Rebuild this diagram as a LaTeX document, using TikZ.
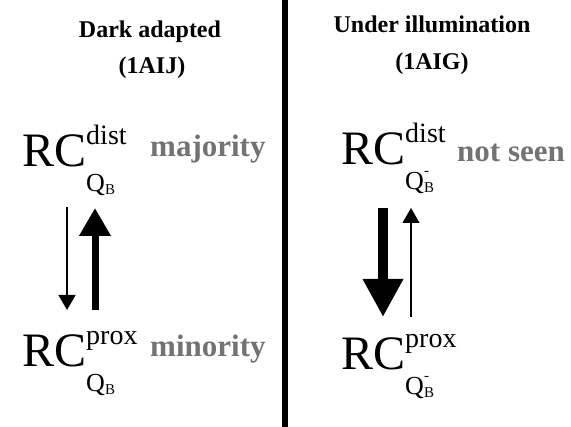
\documentclass[tikz,border=0pt]{standalone}
\usepackage{fontspec}
\setmainfont{Liberation Serif}
\usetikzlibrary{arrows.meta}
\definecolor{labelgray}{gray}{0.45}
% RC with state superscript and Q_B subscript (#2 = charge mark)
\newcommand{\rcstate}[2]{%
  {\fontsize{48}{48}\selectfont RC}%
  \rlap{\raisebox{22pt}{\fontsize{28}{28}\selectfont #1}}%
  \raisebox{-25pt}{\fontsize{26}{26}\selectfont Q}%
  \rlap{\raisebox{-28pt}{\fontsize{15}{15}\selectfont B}}%
  \raisebox{-11pt}{\fontsize{15}{15}\selectfont #2}}
\tikzset{
  head/.style={font=\fontsize{24}{24}\selectfont\bfseries, anchor=base, inner sep=0pt},
  rcnode/.style={anchor=base west, inner sep=0pt},
  share/.style={font=\fontsize{31}{31}\selectfont\bfseries, text=labelgray, anchor=base west, inner sep=0pt},
  fatarrow/.style={line width=7pt, -{Triangle[width=30pt,length=28pt]}},
  fatterarrow/.style={line width=10pt, -{Triangle[width=38pt,length=38pt]}},
  slimarrow/.style={line width=1.2pt, -{Triangle[width=17pt,length=15pt]}},
}
\begin{document}
\begin{tikzpicture}[x=1pt,y=-1pt]
    \useasboundingbox (0,0) rectangle (571,427);
    % divider
    \draw[line width=5.5pt] (285,0) -- (285,427);
    % left half: dark adapted
    \node[head] (darkhd) at (150,38) {Dark adapted};
    \node[head] (darkid) at (152,74) {(1AIJ)};
    \node[rcnode] (distL) at (22,167) {\rcstate{dist}{}};
    \node[rcnode] (proxL) at (22,367) {\rcstate{prox}{}};
    \node[share] (major) at (150,157) {majority};
    \node[share] (minor) at (150,357) {minority};
    \draw[slimarrow] ([xshift=45pt,yshift=-40pt]distL.base west) -- ([xshift=45pt,yshift=57pt]proxL.base west);
    \draw[fatarrow] ([xshift=73pt,yshift=57pt]proxL.base west) -- ([xshift=73pt,yshift=-41pt]distL.base west);
    % right half: under illumination
    \node[head] (lighthd) at (432,33) {Under illumination};
    \node[head] (lightid) at (432,70) {(1AIG)};
    \node[rcnode] (distR) at (341,165) {\rcstate{dist}{-}};
    \node[rcnode] (proxR) at (341,370) {\rcstate{prox}{-}};
    \node[share] (unseen) at (457,162) {not seen};
    \draw[fatterarrow] ([xshift=42pt,yshift=-43pt]distR.base west) -- ([xshift=42pt,yshift=53pt]proxR.base west);
    \draw[slimarrow] ([xshift=70pt,yshift=53pt]proxR.base west) -- ([xshift=70pt,yshift=-43pt]distR.base west);
\end{tikzpicture}
\end{document}
